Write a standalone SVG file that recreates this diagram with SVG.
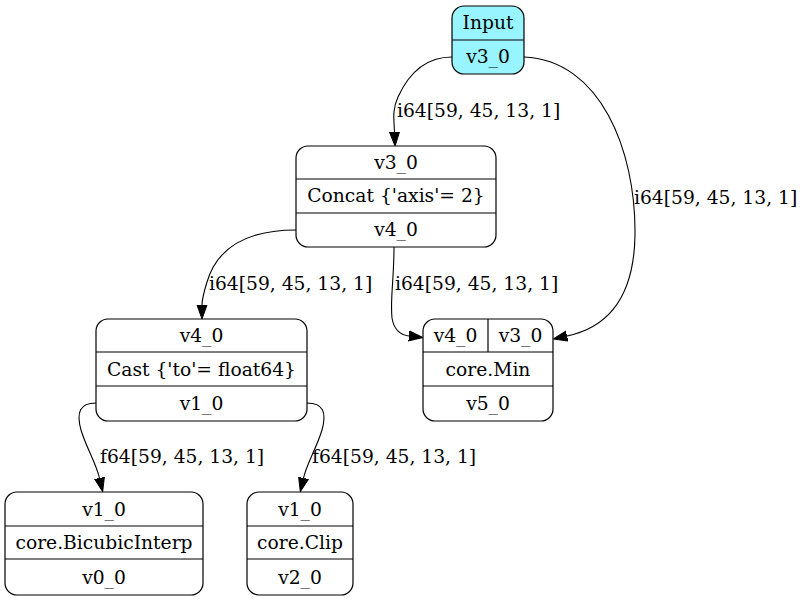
<svg xmlns="http://www.w3.org/2000/svg" width="804" height="601" viewBox="0 0 804 601">
<style>
text{font-family:"DejaVu Serif","Liberation Serif",serif;font-size:18.7px;fill:#000}
.c{text-anchor:middle}
.box{fill:#fff;stroke:#000;stroke-width:1.2}
.in{fill:#98f5ff}
.sep{stroke:#000;stroke-width:1.2;fill:none}
.e{fill:none;stroke:#000;stroke-width:1.1}
</style>
<defs>
<marker id="ah" markerUnits="userSpaceOnUse" markerWidth="16" markerHeight="12" refX="0" refY="5" orient="auto" viewBox="0 0 16 10">
<path d="M0,0 L14,5 L0,10 Z" fill="#000" stroke="#000" stroke-width="1"/>
</marker>
</defs>
<rect width="804" height="601" fill="#fff"/>
<g id="edges">
<path class="e" marker-end="url(#ah)" d="M452,57 C425,57 408,75 398,97 C392,110 394,120 394.5,132"/>
<text x="397" y="117">i64[59, 45, 13, 1]</text>
<path class="e" marker-end="url(#ah)" d="M524,57 C600,60 636,150 635,235 C634,300 605,328 567,336"/>
<text x="634" y="204">i64[59, 45, 13, 1]</text>
<path class="e" marker-end="url(#ah)" d="M296,230 C250,230 218,245 207,282 C203,295 202,300 202,305"/>
<text x="209" y="290">i64[59, 45, 13, 1]</text>
<path class="e" marker-end="url(#ah)" d="M394,247 C394,280 390,300 392,318 C394,330 400,335 409,336"/>
<text x="395" y="290">i64[59, 45, 13, 1]</text>
<path class="e" marker-end="url(#ah)" d="M96,403 C80,403 76,412 81,430 C86,447 96,463 99.5,478"/>
<text x="100" y="463">f64[59, 45, 13, 1]</text>
<path class="e" marker-end="url(#ah)" d="M307,403 C323,403 327,412 322,430 C317,447 307,463 303.5,478"/>
<text x="312" y="463">f64[59, 45, 13, 1]</text>
</g>
<g id="input">
<rect class="box in" x="452" y="6" width="72" height="68" rx="12"/>
<line class="sep" x1="452" y1="40" x2="524" y2="40"/>
<text class="c" x="488" y="29">Input</text>
<text class="c" x="488" y="63">v3_0</text>
</g>
<g id="concat">
<rect class="box" x="296" y="146" width="200" height="101" rx="12"/>
<line class="sep" x1="296" y1="179" x2="496" y2="179"/>
<line class="sep" x1="296" y1="213" x2="496" y2="213"/>
<text class="c" x="396" y="169">v3_0</text>
<text class="c" x="396" y="202">Concat {'axis'= 2}</text>
<text class="c" x="396" y="236">v4_0</text>
</g>
<g id="cast">
<rect class="box" x="96" y="319" width="211" height="102" rx="12"/>
<line class="sep" x1="96" y1="352" x2="307" y2="352"/>
<line class="sep" x1="96" y1="386" x2="307" y2="386"/>
<text class="c" x="201.5" y="342">v4_0</text>
<text class="c" x="201.5" y="376">Cast {'to'= float64}</text>
<text class="c" x="201.5" y="410">v1_0</text>
</g>
<g id="min">
<rect class="box" x="423" y="319" width="130" height="102" rx="12"/>
<line class="sep" x1="423" y1="352" x2="553" y2="352"/>
<line class="sep" x1="423" y1="386" x2="553" y2="386"/>
<line class="sep" x1="488" y1="319" x2="488" y2="352"/>
<text class="c" x="455.5" y="342">v4_0</text>
<text class="c" x="520.5" y="342">v3_0</text>
<text class="c" x="488" y="376">core.Min</text>
<text class="c" x="488" y="410">v5_0</text>
</g>
<g id="bicubic">
<rect class="box" x="5" y="492" width="198" height="103" rx="12"/>
<line class="sep" x1="5" y1="526" x2="203" y2="526"/>
<line class="sep" x1="5" y1="559" x2="203" y2="559"/>
<text class="c" x="104" y="516">v1_0</text>
<text class="c" x="104" y="549">core.BicubicInterp</text>
<text class="c" x="104" y="584">v0_0</text>
</g>
<g id="clip">
<rect class="box" x="247" y="492" width="106" height="103" rx="12"/>
<line class="sep" x1="247" y1="526" x2="353" y2="526"/>
<line class="sep" x1="247" y1="559" x2="353" y2="559"/>
<text class="c" x="300" y="516">v1_0</text>
<text class="c" x="300" y="549">core.Clip</text>
<text class="c" x="300" y="584">v2_0</text>
</g>
</svg>
